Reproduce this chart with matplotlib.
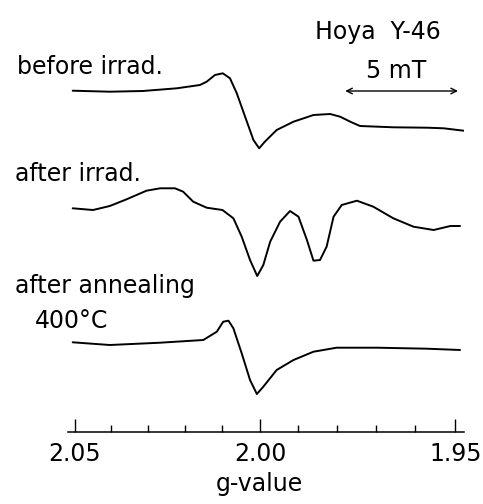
import numpy as np
import matplotlib.pyplot as plt
from matplotlib.ticker import FixedLocator

# ESR spectra of Hoya Y-46
# g-values and relative signal height (arbitrary units)
g_before = [2.0506, 2.0404, 2.0314, 2.0222, 2.0160, 2.0142, 2.0120, 2.0099, 2.0080,
            2.0062, 2.0040, 2.0018, 2.0003, 1.9988, 1.9957, 1.9913, 1.9861, 1.9818,
            1.9792, 1.9766, 1.9741, 1.9656, 1.9571, 1.9529, 1.9479]
sig_before = [0.3, -0.7, 0.0, 2.7, 6.0, 9.3, 16.0, 17.7, 12.7,
              -2.3, -25.7, -49.0, -57.3, -50.7, -39.0, -30.7, -24.0, -23.0,
              -25.7, -30.7, -35.0, -36.3, -36.7, -37.3, -39.7]

g_irrad = [2.0506, 2.0450, 2.0404, 2.0358, 2.0304, 2.0267, 2.0227, 2.0205, 2.0178,
           2.0142, 2.0100, 2.0071, 2.0049, 2.0027, 2.0008, 1.9992, 1.9974, 1.9948,
           1.9922, 1.9900, 1.9878, 1.9861, 1.9844, 1.9827, 1.9809, 1.9788, 1.9749,
           1.9707, 1.9656, 1.9605, 1.9554, 1.9512, 1.9488]
sig_irrad = [1.7, 0.0, 4.0, 10.7, 19.3, 21.7, 21.7, 18.3, 8.3,
             2.3, 0.0, -8.3, -26.7, -50.0, -66.0, -55.0, -31.7, -11.7,
             -1.0, -6.7, -30.0, -50.7, -50.0, -36.7, -6.7, 5.0, 9.3,
             3.3, -8.3, -16.7, -20.0, -16.0, -16.0]

g_anneal = [2.0506, 2.0404, 2.0267, 2.0151, 2.0115, 2.0098, 2.0084, 2.0071, 2.0049,
            2.0027, 2.0009, 1.9992, 1.9957, 1.9913, 1.9861, 1.9801, 1.9698, 1.9571,
            1.9488]
sig_anneal = [0.7, -2.0, 0.3, 3.0, 11.3, 21.3, 22.3, 14.7, -10.3,
              -37.0, -51.0, -43.7, -27.0, -17.0, -8.7, -4.7, -4.7, -5.7,
              -7.0]

major_g = [2.05, 2.00, 1.95]
major_labels = ['2.05', '2.00', '1.95']
minor_g = [2.04, 2.03, 2.02, 2.01, 1.99, 1.98, 1.97, 1.96]

W, H = 483, 504
fig = plt.figure(figsize=(W / 100, H / 100), dpi=100)
ax = fig.add_axes([68 / W, (H - 432) / H, 396 / W, (432 - 55) / H])

# field is linear on the chart, so g sits on a -1/g scale
ax.set_xscale('function', functions=(lambda g: -1.0 / np.asarray(g),
                                     lambda u: -1.0 / np.asarray(u)))

kw = dict(color='black', lw=1.4, solid_joinstyle='round', solid_capstyle='round')
ax.plot(g_before, np.array(sig_before) - 91, **kw)
ax.plot(g_irrad, np.array(sig_irrad) - 210, **kw)
ax.plot(g_anneal, np.array(sig_anneal) - 343, **kw)

ax.set_xlim(2.0519, 1.9478)
ax.set_ylim(-432, -55)

for s in ['top', 'right', 'left']:
    ax.spines[s].set_visible(False)
ax.spines['bottom'].set_linewidth(1.1)
ax.set_yticks([])
ax.xaxis.set_major_locator(FixedLocator(major_g))
ax.xaxis.set_minor_locator(FixedLocator(minor_g))
ax.set_xticklabels(major_labels)
ax.xaxis.set_minor_formatter(plt.NullFormatter())
ax.tick_params(axis='x', which='major', direction='in', length=9.5, width=1.0,
               labelsize=17, pad=7)
ax.tick_params(axis='x', which='minor', direction='in', length=5, width=1.0)

# 5 mT scale bar
ax.annotate('', xy=(1.9493, -91), xytext=(1.9779, -91),
            arrowprops=dict(arrowstyle='<->', lw=1.0, color='black',
                            shrinkA=0, shrinkB=0))

def label(x, y, s, ha='left'):
    fig.text(x / W, 1 - y / H, s, ha=ha, va='baseline', fontsize=17)

label(17, 74, 'before irrad.')
label(15, 181, 'after irrad.')
label(15, 293, 'after annealing')
label(35, 328, '400°C')
label(378, 39, 'Hoya  Y-46', ha='center')
label(396, 78, '5 mT', ha='center')
label(259, 491, 'g-value', ha='center')

fig.savefig('out.png', dpi=100)
